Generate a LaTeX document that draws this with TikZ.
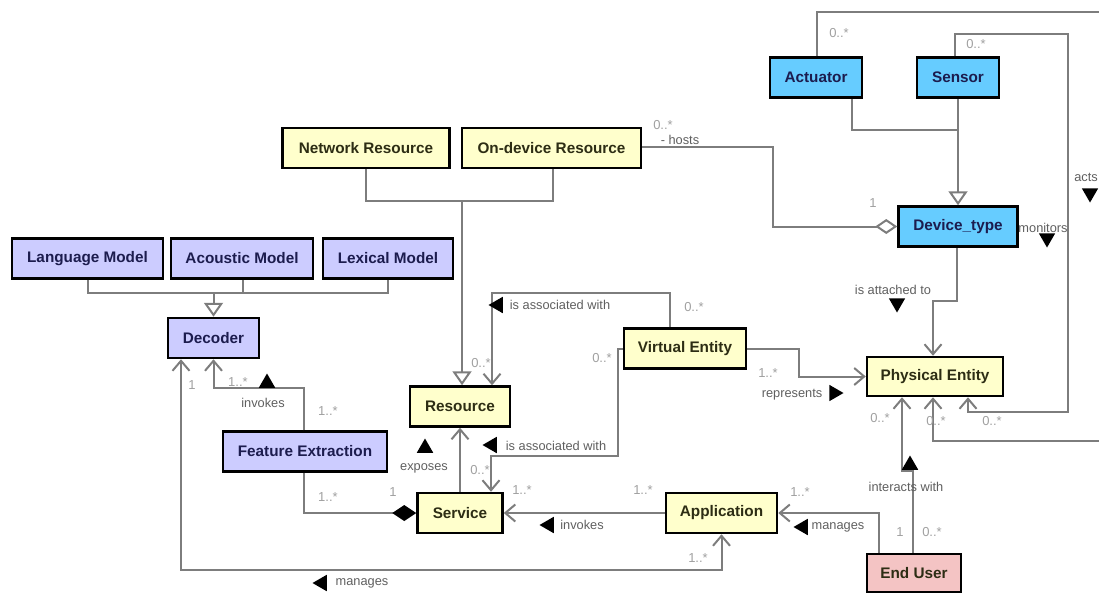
\documentclass[tikz,border=0pt]{standalone}
\usepackage{fontspec}
\setmainfont{Liberation Sans}
\usetikzlibrary{arrows.meta,shapes.geometric}
\definecolor{lavender}{RGB}{204,204,255}
\definecolor{cream}{RGB}{255,255,204}
\definecolor{sky}{RGB}{102,204,255}
\definecolor{rose}{RGB}{244,196,196}
\definecolor{navytext}{RGB}{28,28,78}
\definecolor{olivetext}{RGB}{45,45,20}
\definecolor{wirec}{RGB}{125,125,125}
\definecolor{multc}{RGB}{160,160,160}
\definecolor{lblc}{RGB}{95,95,95}
\begin{document}
\begin{tikzpicture}[x=1pt,y=-1pt,
  cls/.style={draw=black, line width=2.5pt, font=\bfseries\fontsize{15.3}{17}\selectfont,
              minimum height=40pt, inner sep=0pt, anchor=center},
  algo/.style={cls, fill=lavender, text=navytext},
  item/.style={cls, fill=cream, text=olivetext},
  dev/.style={cls, fill=sky, text=navytext},
  usr/.style={cls, fill=rose, text=olivetext},
  wire/.style={draw=wirec, line width=2pt},
  nav/.style={wire, -{Straight Barb[length=10pt,width=17pt]}},
  navboth/.style={wire, {Straight Barb[length=10pt,width=17pt]}-{Straight Barb[length=10pt,width=17pt]}},
  gen/.style={wire, -{Triangle[open,length=14pt,width=19pt,fill=white]}},
  comp/.style={wire, -{Diamond[length=24pt,width=16pt,color=black,fill=black]}},
  aggr/.style={wire, -{Diamond[open,length=22pt,width=15pt,fill=white]}},
  mult/.style={text=multc, font=\fontsize{13}{14}\selectfont, inner sep=0pt},
  lbl/.style={text=lblc, font=\fontsize{12.8}{14}\selectfont, inner sep=0pt},
  dirmark/.style={regular polygon, regular polygon sides=3, fill=black, draw=none,
                  inner sep=0pt, minimum size=19pt},
  pointup/.style={dirmark},
  pointdown/.style={dirmark, shape border rotate=180},
  pointleft/.style={dirmark, shape border rotate=90},
  pointright/.style={dirmark, shape border rotate=-90}
]
\useasboundingbox (0,0) rectangle (1099,592);
\clip (0,0) rectangle (1099,592);

% ---- classes ----
\node[item, minimum width=167pt] (nr)  at (366,148)   {Network Resource};
\node[item, minimum width=179pt] (od)  at (551.5,148) {On-device Resource};
\node[algo, minimum width=151pt] (lm)  at (87.5,258.5) {Language Model};
\node[algo, minimum width=142pt] (am)  at (242,258.5)  {Acoustic Model};
\node[algo, minimum width=130pt] (lx)  at (388,258.5)  {Lexical Model};
\node[algo, minimum width=91pt]  (dec) at (213.5,338)  {Decoder};
\node[algo, minimum width=164pt] (fe)  at (305,451.5)  {Feature Extraction};
\node[item, minimum width=100pt] (rsc) at (460,406.5)  {Resource};
\node[item, minimum width=122pt] (ve)  at (685,348.5)  {Virtual Entity};
\node[item, minimum width=85pt]  (svc) at (460,513)    {Service};
\node[item, minimum width=111pt] (app) at (721.5,513)  {Application};
\node[usr, minimum width=94pt, minimum height=38pt] (eu) at (914,573) {End User};
\node[item, minimum width=136pt, minimum height=39pt] (pe) at (935,376.5) {Physical Entity};
\node[dev, minimum width=119pt] (dt)  at (958,226.5)  {Device\_type};
\node[dev, minimum width=92pt]  (act) at (816,77.5)   {Actuator};
\node[dev, minimum width=82pt]  (sen) at (958,77.5)   {Sensor};

% ---- junction points ----
\coordinate (jdev) at (958,130);
\coordinate (jres) at (462,201);
\coordinate (jdec) at (213.5,293);
\coordinate (kinv) at (213.5,388);
\coordinate (kman) at (721.5,570);

% ---- generalisations ----
\draw[wire] ([xshift=36pt]act.south) |- (jdev);
\draw[gen] (sen.south) -- (dt.north);
\draw[wire] (nr.south) |- (jres);
\draw[wire] ([xshift=1.5pt]od.south) |- (jres);
\draw[gen] (jres) -- (jres |- rsc.north);
\draw[wire] (lm.south) |- (jdec);
\draw[wire] (lx.south) |- (jdec);
\draw[wire] ([xshift=1pt]am.south) |- (jdec);
\draw[gen] (jdec) -- (dec.north);

% ---- associations ----
\draw[nav] ([xshift=-1pt]fe.north) |- (kinv) -- (dec.south);
\draw[navboth] ([xshift=-32.5pt]dec.south) |- (kman) -- (app.south);
\draw[comp] ([xshift=-1pt]fe.south) |- (svc.west);
\draw[nav] (svc.north) -- (rsc.south);
\draw[nav] ([xshift=-15pt]ve.north) -- ++(0,-34.5) -| ([xshift=32pt]rsc.north);
\draw[nav] (ve.west) -- ++(-5,0) -- ++(0,107.5) -| ([xshift=31pt]svc.north);
\draw[nav] (app.west) -- (svc.east);
\draw[nav] ([xshift=-35pt]eu.north) |- (app.east);
\draw[nav] ([xshift=-1pt]eu.north) -- ++(0,-82) -| ([xshift=-33pt]pe.south);
\draw[nav] (ve.east) -- ++(52,0) |- (pe.west);
\draw[nav] ([xshift=-1pt]dt.south) -- ++(0,53.5) -| ([xshift=-2pt]pe.north);
\draw[aggr] ([yshift=1pt]od.east) -- ++(131,0) |- (dt.west);
\draw[nav] ([xshift=-3pt]sen.north) -- ++(0,-22) -- ++(113,0) -- ++(0,378) -| ([xshift=33pt]pe.south);
\draw[nav] ([xshift=1pt]act.north) -- ++(0,-44) -- ++(300,0) -- ++(0,429) -| ([xshift=-2pt]pe.south);

% ---- multiplicities ----
\node[mult] (m1)  at (839,33)  {0..*};
\node[mult] (m2)  at (976,44)  {0..*};
\node[mult] (m3)  at (663,125) {0..*};
\node[mult] (m4)  at (873,203) {1};
\node[mult] (m5)  at (481,363) {0..*};
\node[mult] (m6)  at (694,307) {0..*};
\node[mult] (m7)  at (602,358) {0..*};
\node[mult] (m8)  at (480,470) {0..*};
\node[mult] (m9)  at (238,382) {1..*};
\node[mult] (m10) at (192,385) {1};
\node[mult] (m11) at (328,411) {1..*};
\node[mult] (m12) at (328,497) {1..*};
\node[mult] (m13) at (393,492) {1};
\node[mult] (m14) at (522,490) {1..*};
\node[mult] (m15) at (643,490) {1..*};
\node[mult] (m16) at (698,558) {1..*};
\node[mult] (m17) at (800,492) {1..*};
\node[mult] (m18) at (768,373) {1..*};
\node[mult] (m19) at (880,418) {0..*};
\node[mult] (m20) at (936,421) {0..*};
\node[mult] (m21) at (992,421) {0..*};
\node[mult] (m22) at (900,532) {1};
\node[mult] (m23) at (932,532) {0..*};

% ---- association names with reading direction ----
\node[lbl] (l1)  at (680,140) {- hosts};
\node[lbl] (l2)  at (560,305) {is associated with};
\node[pointleft] (d2) at (498,305) {};
\node[lbl] (l3)  at (556,446) {is associated with};
\node[pointleft] (d3) at (492,445) {};
\node[lbl] (l4)  at (424,468) {exposes};
\node[pointup] (d4) at (425,448) {};
\node[lbl] (l5)  at (263,403) {invokes};
\node[pointup] (d5) at (267,383) {};
\node[lbl] (l6)  at (362,583) {manages};
\node[pointleft] (d6) at (322,583) {};
\node[lbl] (l7)  at (582,525) {invokes};
\node[pointleft] (d7) at (549,525) {};
\node[lbl] (l8)  at (838,527) {manages};
\node[pointleft] (d8) at (803,527) {};
\node[lbl] (l9)  at (906,487) {interacts with};
\node[pointup] (d9) at (910,465) {};
\node[lbl] (l10) at (792,395) {represents};
\node[pointright] (d10) at (834,393) {};
\node[lbl] (l11) at (893,290) {is attached to};
\node[pointdown] (d11) at (897,303) {};
\node[lbl] (l12) at (1043,228) {monitors};
\node[pointdown] (d12) at (1047,238) {};
\node[lbl, anchor=east] (l13) at (1098,177) {acts};
\node[pointdown] (d13) at (1090,193) {};
\end{tikzpicture}
\end{document}
